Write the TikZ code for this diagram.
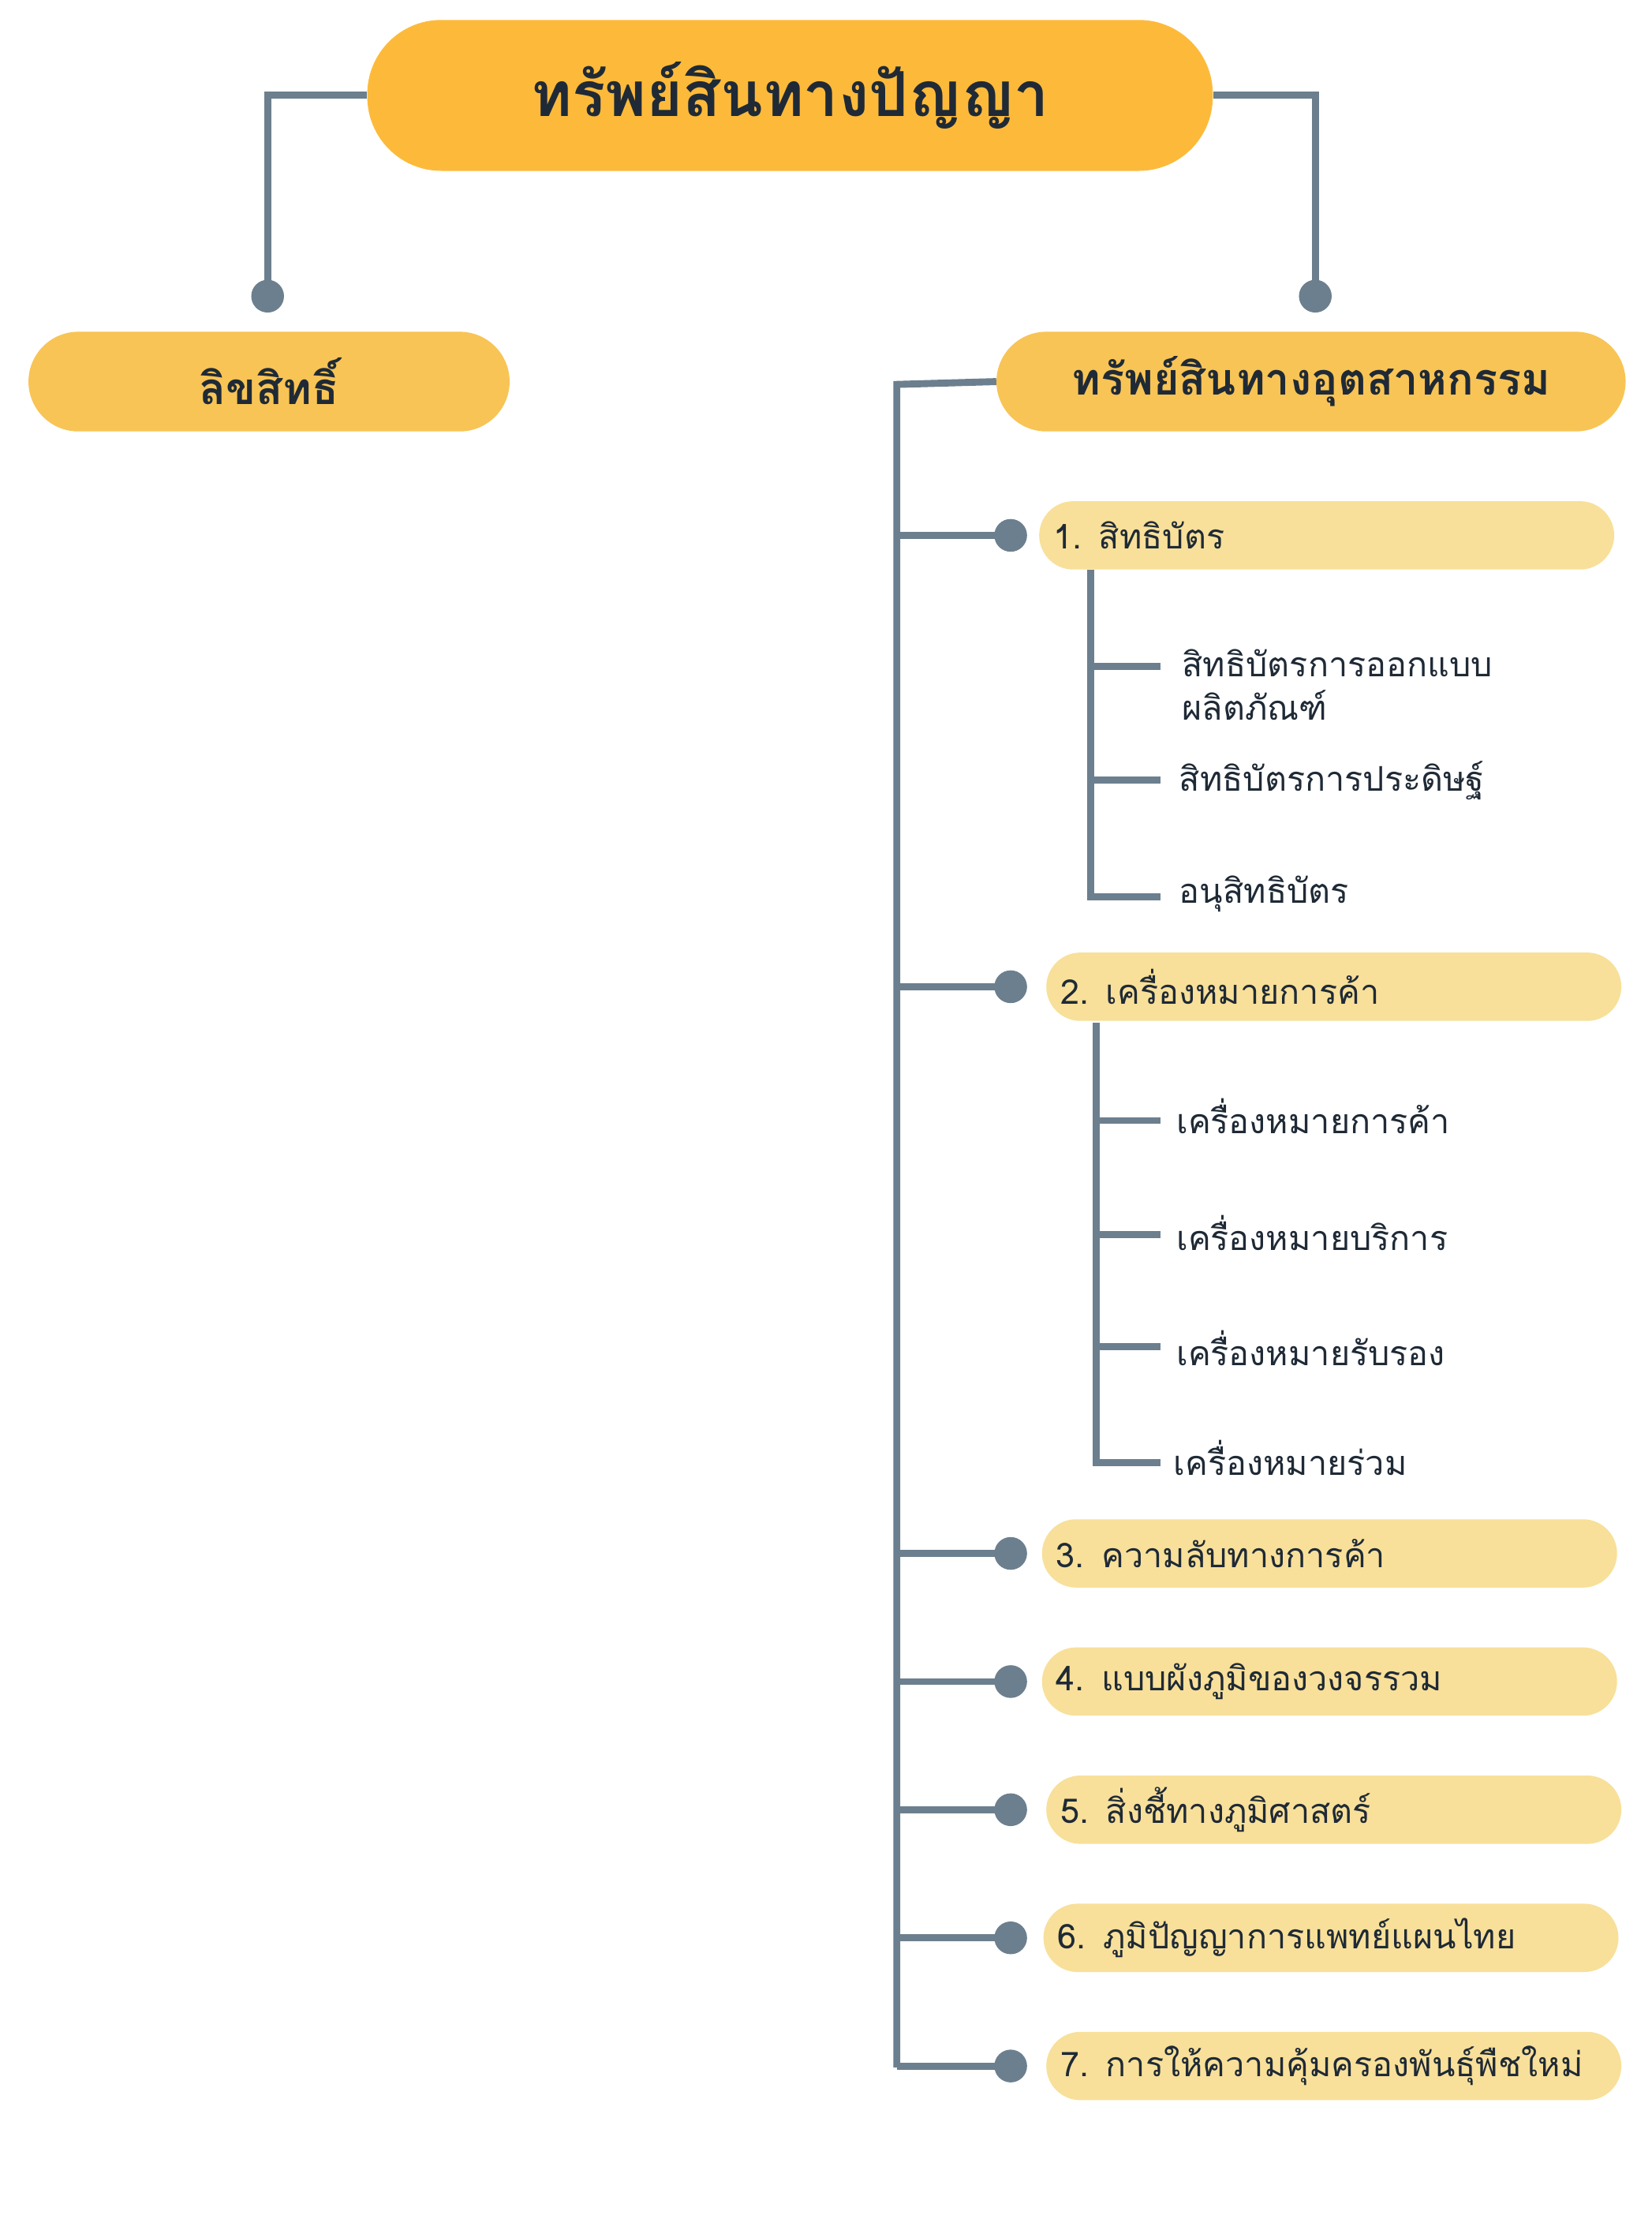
\documentclass[tikz,border=0pt]{standalone}
\usepackage{fontspec}
\newfontfamily\thai[Script=Thai]{Loma}
\usetikzlibrary{positioning}
\definecolor{titlecol}{HTML}{FDBA3A}
\definecolor{headcol}{HTML}{F8C455}
\definecolor{itemcol}{HTML}{F8E09A}
\definecolor{linecol}{HTML}{6C7F8E}
\definecolor{textcol}{HTML}{1F2A36}
\tikzset{
  pill/.style={rounded corners=1.2cm, minimum height=2.4cm, text=textcol, font=\thai\fontsize{34}{40}\selectfont},
  itembox/.style={pill, fill=itemcol, minimum width=20.2cm, text width=19.2cm, align=left},
  subtext/.style={anchor=west, text=textcol, align=left, font=\thai\fontsize{34}{44}\selectfont},
  link/.style={draw=linecol, line width=7pt},
  dot/.style={circle, fill=linecol, inner sep=0pt, minimum size=1.15cm}
}
\begin{document}
\begin{tikzpicture}[x=0.05cm,y=0.05cm]
\useasboundingbox (0,0) rectangle (1160,-1569);

% heads
\node[pill, fill=titlecol, rounded corners=2.6cm, minimum width=29.7cm, minimum height=5.3cm,
  font=\thai\bfseries\fontsize{62}{70}\selectfont] (root) at (555,-67) {ทรัพย์สินทางปัญญา};
\node[pill, fill=headcol, rounded corners=1.75cm, minimum width=16.9cm, minimum height=3.5cm,
  font=\thai\bfseries\fontsize{44}{50}\selectfont] (copy) at (189,-268) {ลิขสิทธิ์};
\node[pill, fill=headcol, rounded corners=1.75cm, minimum width=22.1cm, minimum height=3.5cm,
  font=\thai\bfseries\fontsize{44}{50}\selectfont] (ind) at (921,-268) {ทรัพย์สินทางอุตสาหกรรม};

\node[dot] (dl) at (188,-208) {};
\node[dot] (dr) at (924,-208) {};
\draw[link] (root.west) -| (dl.center);
\draw[link] (root.east) -| (dr.center);

% items
\node[itembox] (i1) at (932,-376) {1. สิทธิบัตร};
\node[itembox] (i2) at (937,-693) {2. เครื่องหมายการค้า};
\node[itembox] (i3) at (934,-1091) {3. ความลับทางการค้า};
\node[itembox] (i4) at (934,-1181) {4. แบบผังภูมิของวงจรรวม};
\node[itembox] (i5) at (937,-1271) {5. สิ่งชี้ทางภูมิศาสตร์};
\node[itembox] (i6) at (935,-1361) {6. ภูมิปัญญาการแพทย์แผนไทย};
\node[itembox] (i7) at (937,-1451) {7. การให้ความคุ้มครองพันธุ์พืชใหม่};

\coordinate (top) at (630,-270);
\coordinate (bot) at (630,-1452);
\draw[link] (ind.west) -- (top) -- (bot);
\foreach \n/\y in {1/376,2/693,3/1091,4/1181,5/1271,6/1361,7/1451} {
  \node[dot] (d\n) at (710,-\y) {};
  \draw[link] (630,-\y) -- (d\n.center);
}

% patent subs
\node[subtext] (s11) at (828,-481) {สิทธิบัตรการออกแบบ\\ผลิตภัณฑ์};
\node[subtext] (s12) at (826,-548) {สิทธิบัตรการประดิษฐ์};
\node[subtext] (s13) at (826,-628) {อนุสิทธิบัตร};
\coordinate (v1) at (766,-630);
\draw[link] (766,-400) -- (v1) -- (815,-630);
\draw[link] (766,-468) -- (815,-468);
\draw[link] (766,-548) -- (815,-548);

% trademark subs
\node[subtext] (s21) at (824,-784) {เครื่องหมายการค้า};
\node[subtext] (s22) at (824,-866) {เครื่องหมายบริการ};
\node[subtext] (s23) at (824,-947) {เครื่องหมายรับรอง};
\node[subtext] (s24) at (822,-1024) {เครื่องหมายร่วม};
\coordinate (v2) at (770,-1027);
\draw[link] (770,-718) -- (v2) -- (815,-1027);
\foreach \y in {787,867,946} \draw[link] (770,-\y) -- (815,-\y);
\end{tikzpicture}
\end{document}
